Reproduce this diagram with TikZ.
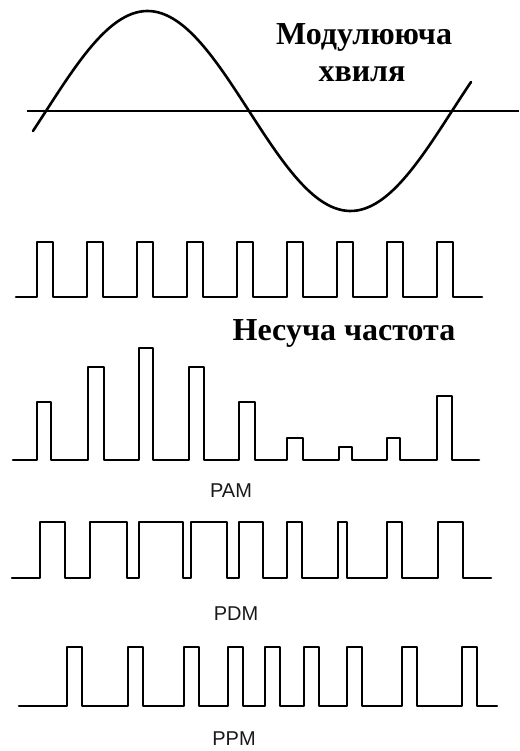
\documentclass[tikz,border=0pt]{standalone}
\usepackage{fontspec}
\setmainfont{Liberation Serif}
\newfontfamily\labfont{Liberation Sans}
\tikzset{
  wave/.style={line width=2.6pt, line join=round, line cap=round},
  axisline/.style={line width=1.8pt},
  title/.style={font=\bfseries\fontsize{32}{38}\selectfont, inner sep=0pt, anchor=base},
  modlabel/.style={font=\labfont\fontsize{20}{24}\selectfont, text=black!90, inner sep=0pt}
}
\begin{document}
\begin{tikzpicture}[x=1pt, y=-1pt]
\useasboundingbox (0,0) rectangle (519,751);
% modulating wave
\draw[axisline] (27,111) -- (519,111);
\draw[wave, domain=33:471, samples=120, smooth] plot (\x, {111-100*sin((\x-46)/406*360)});
\node[title] (modtop) at (364,45) {Модулююча};
\node[title] (modbot) at (362,82) {хвиля};
% carrier
\draw[wave] (16,297) \foreach \r in {37,87,...,437} { -- (\r,297) -- (\r,242) -- (\r+16,242) -- (\r+16,297) } -- (482,297);
\node[title] (carrier) at (344,340) {Несуча частота};
% PAM
\draw[wave] (13,460) \foreach \r/\f/\h in {37/51/402, 88/104/367, 139/153/348, 189/204/367, 239/255/402, 287/303/438, 339/352/447, 387/400/438, 437/452/396} { -- (\r,460) -- (\r,\h) -- (\f,\h) -- (\f,460) } -- (479,460);
\node[modlabel] (pam) at (231,491) {PAM};
% PDM
\draw[wave] (12,578) \foreach \r/\f in {40/65, 90/127, 139/183, 191/227, 239/263, 287/302, 338/347, 387/402, 438/463} { -- (\r,578) -- (\r,522) -- (\f,522) -- (\f,578) } -- (491,578);
\node[modlabel] (pdm) at (236,614) {PDM};
% PPM
\draw[wave] (19,706) \foreach \r in {67, 128, 184, 228, 265, 304, 347, 402, 462} { -- (\r,706) -- (\r,647) -- (\r+15,647) -- (\r+15,706) } -- (497,706);
\node[modlabel] (ppm) at (234,739) {PPM};
\end{tikzpicture}
\end{document}
